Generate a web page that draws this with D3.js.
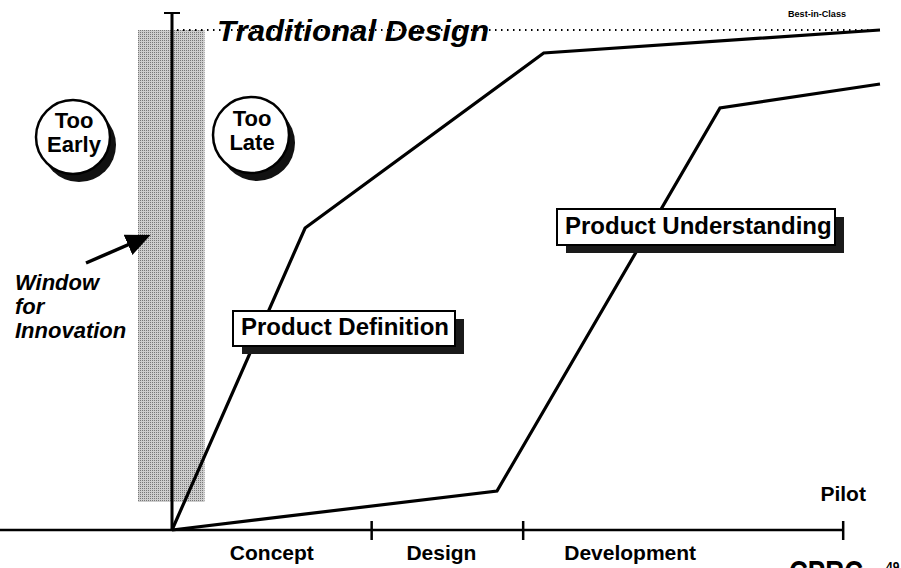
<!DOCTYPE html>
<html>
<head>
<meta charset="utf-8">
<script src="https://cdn.jsdelivr.net/npm/d3@7"></script>
<style>
  body { margin: 0; background: #fff; }
  svg { display: block; font-family: "Liberation Sans", Arial, sans-serif; }
  .lbl { font-weight: bold; fill: #000; }
</style>
</head>
<body>
<svg width="901" height="568"></svg>
<script>
// phases along the time axis (end of each phase, % of time to pilot)
var phaseNames = ["Concept", "Design", "Development"];
var phaseEnds = [28.2, 49.6, 94.8];

// Product Definition curve
var defTime = [0, 18.8, 52.5, 100];
var defLevel = [0, 60.4, 95.4, 100];

// Product Understanding curve
var undTime = [0, 45.9, 77.4, 100];
var undLevel = [0, 7.8, 84.4, 89.2];

// best-in-class level
var bestLevel = 100;

var svg = d3.select("svg"),
    width = +svg.attr("width"),
    height = +svg.attr("height");

var x = d3.scaleLinear().domain([0, 100]).range([172, 880]);
var y = d3.scaleLinear().domain([0, 100]).range([530, 30]);

// dithered grey for the window band
var defs = svg.append("defs");
var pat = defs.append("pattern")
    .attr("id", "dither")
    .attr("width", 2).attr("height", 2)
    .attr("patternUnits", "userSpaceOnUse");
pat.append("rect").attr("width", 2).attr("height", 2).attr("fill", "#cdcdcd");
pat.append("rect").attr("x", 0).attr("y", 0).attr("width", 1).attr("height", 1).attr("fill", "#777");

defs.append("marker")
    .attr("id", "arrow")
    .attr("viewBox", "0 0 10 10")
    .attr("refX", 8).attr("refY", 5)
    .attr("markerWidth", 7).attr("markerHeight", 7)
    .attr("orient", "auto")
  .append("path")
    .attr("d", "M0,0.5 L10,5 L0,9.5 Z")
    .attr("fill", "#000");

// window for innovation band
svg.append("rect")
    .attr("x", x(-4.8))
    .attr("y", y(bestLevel))
    .attr("width", x(4.6) - x(-4.8))
    .attr("height", y(5.6) - y(bestLevel))
    .attr("fill", "url(#dither)");

// vertical start line with T cap
svg.append("line")
    .attr("x1", x(0)).attr("x2", x(0))
    .attr("y1", 12).attr("y2", y(0))
    .attr("stroke", "#000").attr("stroke-width", 3);
svg.append("line")
    .attr("x1", x(0) - 8).attr("x2", x(0) + 8)
    .attr("y1", 13).attr("y2", 13)
    .attr("stroke", "#000").attr("stroke-width", 2);

// dotted best-in-class line
svg.append("line")
    .attr("x1", x(0) + 5).attr("x2", x(100))
    .attr("y1", y(bestLevel)).attr("y2", y(bestLevel))
    .attr("stroke", "#000").attr("stroke-width", 2)
    .attr("stroke-dasharray", "1.5,4.5");

svg.append("text")
    .attr("class", "lbl")
    .attr("x", 217).attr("y", 41)
    .style("font-size", "30px")
    .style("font-style", "italic")
    .attr("textLength", 272)
    .attr("lengthAdjust", "spacingAndGlyphs")
    .text("Traditional Design");

svg.append("text")
    .attr("class", "lbl")
    .attr("x", 788).attr("y", 17)
    .style("font-size", "9px")
    .attr("textLength", 58)
    .attr("lengthAdjust", "spacingAndGlyphs")
    .text("Best-in-Class");

// time axis
svg.append("line")
    .attr("x1", 0).attr("x2", x(phaseEnds[2]))
    .attr("y1", y(0)).attr("y2", y(0))
    .attr("stroke", "#000").attr("stroke-width", 2.5);

svg.append("g")
  .selectAll("line")
  .data(phaseEnds)
  .enter().append("line")
    .attr("x1", function(d) { return x(d); })
    .attr("x2", function(d) { return x(d); })
    .attr("y1", y(0) - 9).attr("y2", y(0) + 10)
    .attr("stroke", "#000").attr("stroke-width", 2.5);

// phase labels sit roughly over each phase (Development is pulled left of the logo)
var phaseStarts = [0].concat(phaseEnds.slice(0, 2));
var labelShift = [0, -6, -53];
svg.append("g")
  .selectAll("text")
  .data(phaseNames)
  .enter().append("text")
    .attr("class", "lbl")
    .attr("x", function(d, i) { return x((phaseStarts[i] + phaseEnds[i]) / 2) + labelShift[i]; })
    .attr("y", 560)
    .attr("text-anchor", "middle")
    .style("font-size", "21px")
    .text(function(d) { return d; });

svg.append("text")
    .attr("class", "lbl")
    .attr("x", x(phaseEnds[2]))
    .attr("y", 501)
    .attr("text-anchor", "middle")
    .style("font-size", "21px")
    .text("Pilot");

// curves
var line = d3.line()
    .x(function(d) { return x(d[0]); })
    .y(function(d) { return y(d[1]); });

svg.append("path")
    .datum(d3.zip(defTime, defLevel))
    .attr("d", line)
    .attr("fill", "none").attr("stroke", "#000")
    .attr("stroke-width", 3.2).attr("stroke-linejoin", "miter");

svg.append("path")
    .datum(d3.zip(undTime, undLevel))
    .attr("d", line)
    .attr("fill", "none").attr("stroke", "#000")
    .attr("stroke-width", 3.2).attr("stroke-linejoin", "miter");

// shadowed label boxes
function labelBox(bx, by, bw, bh, txt) {
  var g = svg.append("g");
  g.append("rect")
      .attr("x", bx + 9).attr("y", by + 8)
      .attr("width", bw).attr("height", bh)
      .attr("fill", "#1a1a1a");
  g.append("rect")
      .attr("x", bx).attr("y", by)
      .attr("width", bw).attr("height", bh)
      .attr("fill", "#fff").attr("stroke", "#000").attr("stroke-width", 2);
  g.append("text")
      .attr("class", "lbl")
      .attr("x", bx + 8).attr("y", by + bh - 11)
      .style("font-size", "24px")
      .text(txt);
}
labelBox(233, 311, 222, 35, "Product Definition");
labelBox(557, 209, 278, 36, "Product Understanding");

// too early / too late bubbles
function bubble(cx, cy, r, lines) {
  var g = svg.append("g");
  g.append("circle")
      .attr("cx", cx + 6).attr("cy", cy + 8).attr("r", r)
      .attr("fill", "#111");
  g.append("circle")
      .attr("cx", cx).attr("cy", cy).attr("r", r)
      .attr("fill", "#fff").attr("stroke", "#000").attr("stroke-width", 2.5);
  g.selectAll("text")
    .data(lines)
    .enter().append("text")
      .attr("class", "lbl")
      .attr("x", cx + 1)
      .attr("y", function(d, i) { return cy - 9 + i * 24; })
      .attr("text-anchor", "middle")
      .style("font-size", "22px")
      .text(function(d) { return d; });
}
bubble(73, 137, 37, ["Too", "Early"]);
bubble(251, 135, 38, ["Too", "Late"]);

// window for innovation note
svg.append("line")
    .attr("x1", 86).attr("y1", 263)
    .attr("x2", 146).attr("y2", 237)
    .attr("stroke", "#000").attr("stroke-width", 3.5)
    .attr("marker-end", "url(#arrow)");

svg.append("g")
  .selectAll("text")
  .data(["Window", "for", "Innovation"])
  .enter().append("text")
    .attr("class", "lbl")
    .attr("x", 15)
    .attr("y", function(d, i) { return 290 + i * 24; })
    .style("font-size", "22px")
    .style("font-style", "italic")
    .text(function(d) { return d; });

// logo fragment at the page foot
svg.append("text")
    .attr("class", "lbl")
    .attr("x", 789).attr("y", 584)
    .style("font-size", "34px")
    .style("font-weight", "900")
    .attr("textLength", 74)
    .attr("lengthAdjust", "spacingAndGlyphs")
    .text("CPRC");
svg.append("text")
    .attr("class", "lbl")
    .attr("x", 886).attr("y", 571)
    .style("font-size", "12px")
    .text("49");
</script>
</body>
</html>
